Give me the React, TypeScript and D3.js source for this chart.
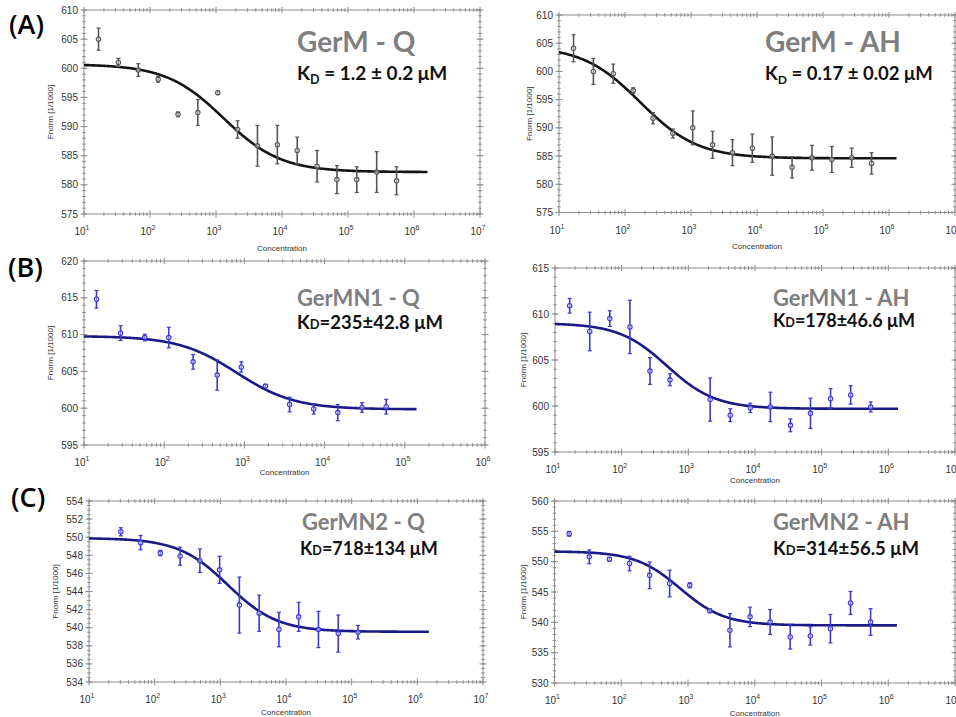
import React from 'react';
import * as d3 from 'd3';

// ---------- data ----------
const concA = [16.6, 33.2, 66.4, 133, 266, 531, 1063, 2125, 4250, 8500, 17000, 34000, 68000, 136000, 272000, 544000];
const concB1 = [14.3, 28.6, 57.2, 114, 229, 458, 915, 1830, 3660, 7320, 14600, 29300, 58600];
const concB2 = [16.6, 33.2, 66.4, 133, 266, 531, 2125, 4250, 8500, 17000, 34000, 68000, 136000, 272000, 544000];
const concC1 = [30.5, 61, 122, 244, 488, 976, 1950, 3900, 7810, 15600, 31200, 62500, 125000];
const concC2 = [16.6, 33.2, 66.4, 133, 266, 531, 1063, 2125, 4250, 8500, 17000, 34000, 68000, 136000, 272000, 544000];

const germMQ = [605.0, 601.0, 599.7, 598.1, 592.1, 592.4, 595.8, 589.5, 586.7, 586.9, 585.9, 583.2, 580.9, 580.9, 582.2, 580.7];
const germMQErr = [1.9, 0.7, 1.1, 0.5, 0.4, 2.2, 0.3, 1.5, 3.5, 3.3, 2.3, 2.7, 2.4, 2.2, 3.5, 2.4];
const germMAH = [604.1, 600.0, 599.6, 596.6, 591.7, 589.0, 590.0, 587.0, 585.6, 586.4, 585.0, 583.0, 584.7, 584.4, 584.7, 583.7];
const germMAHErr = [2.4, 2.3, 1.7, 0.5, 1.0, 0.8, 3.0, 2.4, 2.3, 2.5, 3.4, 1.9, 2.2, 2.3, 1.7, 1.9];
const germMN1Q = [614.8, 610.2, 609.6, 609.6, 606.3, 604.5, 605.6, 603.0, 600.5, 599.9, 599.4, 600.1, 600.2];
const germMN1QErr = [1.2, 1.0, 0.45, 1.4, 1.0, 2.05, 0.7, 0.2, 1.0, 0.7, 1.1, 0.65, 1.0];
const germMN1AH = [610.9, 608.1, 609.5, 608.6, 603.8, 602.85, 600.7, 599.0, 599.8, 599.9, 597.9, 599.2, 600.8, 601.2, 599.9];
const germMN1AHErr = [0.8, 2.1, 0.85, 2.9, 1.45, 0.65, 2.35, 0.7, 0.5, 1.6, 0.7, 1.65, 1.1, 1.0, 0.55];
const germMN2Q = [550.6, 549.4, 548.25, 547.9, 547.4, 546.4, 542.5, 541.6, 539.8, 541.2, 539.8, 539.35, 539.5];
const germMN2QErr = [0.45, 0.8, 0.3, 1.0, 1.3, 1.5, 3.1, 2.0, 1.9, 1.6, 2.0, 2.05, 0.75];
const germMN2AH = [554.6, 550.8, 550.4, 549.7, 547.75, 546.4, 546.1, 541.9, 538.7, 540.9, 540.05, 537.6, 537.75, 538.95, 543.2, 540.05];
const germMN2AHErr = [0.4, 1.15, 0.3, 1.2, 2.2, 2.2, 0.4, 0.3, 2.75, 1.6, 2.05, 2.0, 1.5, 2.35, 1.9, 2.2];

// fit parameters (top, bottom, EC50, hill, last concentration of fitted line)
const fitTop = [600.7, 604.5, 609.8, 609.0, 549.9, 551.7];
const fitBottom = [582.2, 584.6, 599.85, 599.7, 539.55, 539.5];
const fitEC50 = [1300, 170, 800, 480, 1300, 760];
const fitHill = [1.0, 1.0, 1.2, 1.2, 1.15, 1.3];
const fitEnd = [1.6e6, 1.3e6, 1.4e5, 1.4e6, 1.5e6, 1.35e6];

const titles = ['GerM - Q', 'GerM - AH', 'GerMN1 - Q', 'GerMN1 - AH', 'GerMN2 - Q', 'GerMN2 - AH'];
const kdValues = ['1.2 ± 0.2 μM', '0.17 ± 0.02 μM', '235±42.8 μM', '178±46.6 μM', '718±134 μM', '314±56.5 μM'];
const panelLetters = ['(A)', '(B)', '(C)'];

const yDomains: [number, number][] = [[575, 610], [575, 610], [595, 620], [595, 615], [534, 554], [530, 560]];
const yMajorSteps = [5, 5, 5, 5, 2, 5];
const yMinorSteps = [1, 1, 1, 1, 0.5, 1];
const xMaxExp = [7, 7, 6, 7, 7, 7];

// ---------- layout ----------
const layouts = [
  { x0: 84, x1: 480, yt: 10, yb: 214, tx: 297, ty: 52, ts: 28, kx: 297, ky: 80, ks: 19, kStyle: 'sub', yl: 50, cy: 248 },
  { x0: 559, x1: 955, yt: 15, yb: 212.5, tx: 765, ty: 52, ts: 28, kx: 765, ky: 80, ks: 18.5, kStyle: 'sub', yl: 529, cy: 246 },
  { x0: 84, x1: 485, yt: 261, yb: 445, tx: 297, ty: 306, ts: 22, kx: 297, ky: 329, ks: 18.5, kStyle: 'sc', yl: 50, cy: 472 },
  { x0: 555, x1: 955, yt: 268, yb: 452, tx: 773, ty: 306, ts: 22, kx: 773, ky: 327, ks: 18, kStyle: 'sc', yl: 523, cy: 480 },
  { x0: 89, x1: 483, yt: 501, yb: 682, tx: 302, ty: 530, ts: 22, kx: 300, ky: 555, ks: 18, kStyle: 'sc', yl: 55, cy: 712 },
  { x0: 554.5, x1: 955, yt: 501, yb: 683, tx: 773, ty: 530, ts: 22, kx: 773, ky: 555, ks: 18.5, kStyle: 'sc', yl: 523, cy: 713 },
];

const seriesConc = [concA, concA, concB1, concB2, concC1, concC2];
const seriesVals = [germMQ, germMAH, germMN1Q, germMN1AH, germMN2Q, germMN2AH];
const seriesErrs = [germMQErr, germMAHErr, germMN1QErr, germMN1AHErr, germMN2QErr, germMN2AHErr];

const AXIS = '#8c8c8c';
const TICKTXT = '#333';
const FONT = 'Liberation Sans, Arial, sans-serif';
const TFONT = 'Lato, "Open Sans", sans-serif';

function Panel({ i }: { i: number }) {
  const L = layouts[i];
  const isBlue = i >= 2;
  const markColor = isBlue ? '#3a3ad2' : '#555';
  const lineColor = isBlue ? '#1a1a86' : '#141414';
  const x = d3.scaleLog().domain([10, Math.pow(10, xMaxExp[i])]).range([L.x0, L.x1]);
  const y = d3.scaleLinear().domain(yDomains[i]).range([L.yb, L.yt]);

  const majorX: number[] = [];
  const minorX: number[] = [];
  for (let e = 1; e <= xMaxExp[i]; e++) {
    majorX.push(Math.pow(10, e));
    if (e < xMaxExp[i]) for (let m = 2; m <= 9; m++) minorX.push(m * Math.pow(10, e));
  }
  const [ymin, ymax] = yDomains[i];
  const majorY = d3.range(ymin, ymax + 1e-9, yMajorSteps[i]);
  const minorY = d3.range(ymin, ymax + 1e-9, yMinorSteps[i]);

  const fit = (c: number) => fitBottom[i] + (fitTop[i] - fitBottom[i]) / (1 + Math.pow(c / fitEC50[i], fitHill[i]));
  const lgEnd = Math.log10(fitEnd[i]);
  const curvePts = d3.range(0, 301).map((k) => {
    const c = Math.pow(10, 1 + (k / 300) * (lgEnd - 1));
    return [x(c), y(fit(c))] as [number, number];
  });
  const line = d3.line().curve(d3.curveBasis)(curvePts) || '';

  const conc = seriesConc[i];
  const vals = seriesVals[i];
  const errs = seriesErrs[i];

  return (
    <g>
      {/* frame */}
      <rect x={L.x0} y={L.yt} width={L.x1 - L.x0} height={L.yb - L.yt} fill="none" stroke={AXIS} strokeWidth={1} />
      {/* x ticks bottom & top */}
      {majorX.map((v) => (
        <g key={'mx' + v}>
          <line x1={x(v)} x2={x(v)} y1={L.yb - 3.5} y2={L.yb + 3.5} stroke={AXIS} />
          <line x1={x(v)} x2={x(v)} y1={L.yt - 3} y2={L.yt + 3} stroke={AXIS} />
        </g>
      ))}
      {minorX.map((v) => (
        <g key={'nx' + v}>
          <line x1={x(v)} x2={x(v)} y1={L.yb - 1.8} y2={L.yb + 1.8} stroke={AXIS} />
          <line x1={x(v)} x2={x(v)} y1={L.yt - 1.8} y2={L.yt + 1.8} stroke={AXIS} />
        </g>
      ))}
      {/* y ticks left & right */}
      {minorY.map((v) => (
        <g key={'ny' + v}>
          <line x1={L.x0 - 1.8} x2={L.x0 + 1.8} y1={y(v)} y2={y(v)} stroke={AXIS} />
          <line x1={L.x1 - 1.8} x2={L.x1 + 1.8} y1={y(v)} y2={y(v)} stroke={AXIS} />
        </g>
      ))}
      {majorY.map((v) => (
        <g key={'my' + v}>
          <line x1={L.x0 - 3.5} x2={L.x0 + 3.5} y1={y(v)} y2={y(v)} stroke={AXIS} />
          <line x1={L.x1 - 3.5} x2={L.x1 + 3.5} y1={y(v)} y2={y(v)} stroke={AXIS} />
          <text x={L.x0 - 6} y={y(v)} dy="0.35em" textAnchor="end" fontFamily={FONT} fontSize={10} fill={TICKTXT}>
            {v}
          </text>
        </g>
      ))}
      {/* x labels */}
      {majorX.map((v, k) => (
        <text key={'lx' + v} x={x(v) - 2} y={L.yb + 21} textAnchor="middle" fontFamily={FONT} fontSize={10} fill={TICKTXT}>
          10
          <tspan fontSize={7} dy={-5}>{k + 1}</tspan>
        </text>
      ))}
      <text x={(L.x0 + L.x1) / 2} y={L.cy} dy="0.35em" textAnchor="middle" fontFamily={FONT} fontSize={8} fill="#333">
        Concentration
      </text>
      <text
        transform={`translate(${L.yl},${(L.yt + L.yb) / 2}) rotate(-90)`}
        dy="0.35em"
        textAnchor="middle"
        fontFamily={FONT}
        fontSize={8}
        fill="#333"
      >
        Fnorm [1/1000]
      </text>
      {/* fit */}
      <path d={line} fill="none" stroke={lineColor} strokeWidth={2.6} />
      {/* points */}
      {conc.map((c, k) => {
        const cx = x(c);
        const v = vals[k];
        const e = errs[k];
        const yt = y(v + e);
        const yb = y(v - e);
        return (
          <g key={'p' + k} stroke={markColor} fill="none">
            <line x1={cx} x2={cx} y1={yt} y2={yb} strokeWidth={1.6} />
            <line x1={cx - 2} x2={cx + 2} y1={yt} y2={yt} strokeWidth={1.2} />
            <line x1={cx - 2} x2={cx + 2} y1={yb} y2={yb} strokeWidth={1.2} />
            <circle cx={cx} cy={y(v)} r={2.2} strokeWidth={1.1} fill="#fff" fillOpacity={0.4} />
          </g>
        );
      })}
      {/* title */}
      <text x={L.tx} y={L.ty} fontFamily={TFONT} fontWeight={700} fontSize={L.ts} fill="#7f7f7f">
        {titles[i]}
      </text>
      {L.kStyle === 'sub' ? (
        <text x={L.kx} y={L.ky} fontFamily={TFONT} fontWeight={700} fontSize={L.ks} fill="#111">
          K<tspan fontSize={L.ks * 0.66} dy={4}>D</tspan>
          <tspan dy={-4}>{' = ' + kdValues[i]}</tspan>
        </text>
      ) : (
        <text x={L.kx} y={L.ky} fontFamily={TFONT} fontWeight={700} fontSize={L.ks} fill="#111">
          K<tspan fontSize={L.ks * 0.7}>D</tspan>
          {'=' + kdValues[i]}
        </text>
      )}
    </g>
  );
}

export default function App() {
  return (
    <svg width={956} height={717} style={{ position: 'absolute', left: 0, top: 0, background: '#fff' }}>
      <rect x={0} y={0} width={956} height={717} fill="#fff" />
      {[0, 1, 2, 3, 4, 5].map((i) => (
        <Panel key={i} i={i} />
      ))}
      {panelLetters.map((t, k) => (
        <text
          key={t}
          x={[9, 8, 11][k]}
          y={[34, 277, 507][k]}
          fontFamily={'"Open Sans", sans-serif'}
          fontWeight={600}
          fontSize={27}
          fill="#000"
        >
          {t}
        </text>
      ))}
    </svg>
  );
}
